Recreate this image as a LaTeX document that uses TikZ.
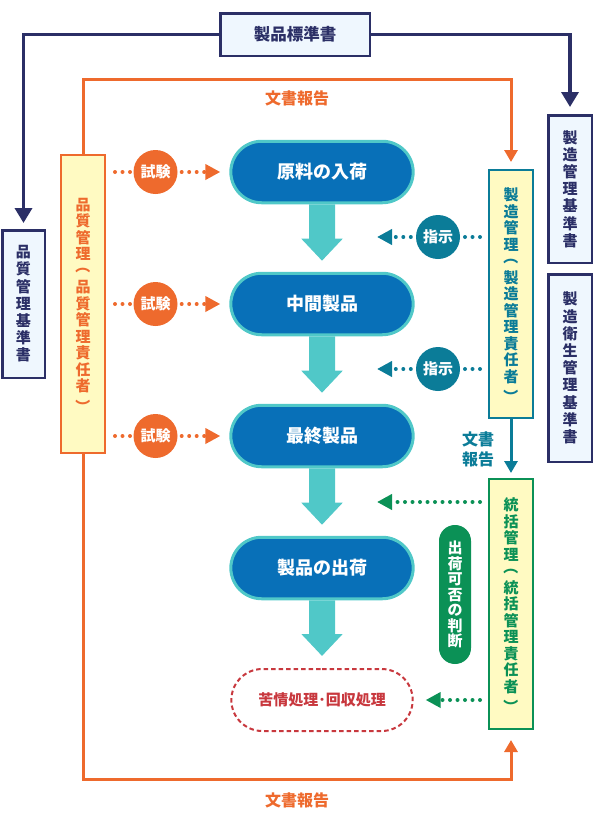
\documentclass[tikz,border=0pt]{standalone}
\usepackage{fontspec}
\setmainfont{Noto Sans CJK JP}
\usetikzlibrary{positioning, arrows.meta, shapes.misc}

\definecolor{stdnavy}{HTML}{2B2F66}
\definecolor{stdfill}{HTML}{EFF7FE}
\definecolor{qcorange}{HTML}{EE6A2D}
\definecolor{mcteal}{HTML}{0B7C98}
\definecolor{gcgreen}{HTML}{0B9156}
\definecolor{rolefill}{HTML}{FFFAC2}
\definecolor{flowblue}{HTML}{0870B8}
\definecolor{flowrim}{HTML}{50C8C8}
\definecolor{claimred}{HTML}{C8383E}

\newcommand{\diafont}[2]{\fontsize{#1}{#2}\selectfont\bfseries}
\newcommand{\vopen}{\raisebox{1.15em}[0.88em][0.12em]{\rotatebox{-90}{（}}}
\newcommand{\vclose}{\raisebox{0.6em}[0.88em][0.12em]{\rotatebox{-90}{）}}}

\tikzset{
  stdbox/.style={draw=stdnavy, line width=2.5pt, fill=stdfill, text=stdnavy,
    inner sep=0pt, align=center, font=\diafont{15}{17.2}},
  stdline/.style={draw=stdnavy, line width=3.5pt, -{Triangle[width=17pt,length=15pt]}},
  rolebox/.style={draw=#1, line width=2pt, fill=rolefill, text=#1,
    inner sep=0pt, align=center, minimum width=44pt, font=\diafont{15}{16.5}},
  flowstep/.style={rounded rectangle, draw=flowrim, line width=3pt, fill=flowblue,
    text=white, minimum width=189pt, minimum height=61.5pt, font=\diafont{18}{20}},
  flowarrow/.style={draw=flowrim, line width=26pt, -{Triangle[width=40pt,length=22pt]}},
  badge/.style={circle, fill=#1, text=white, minimum size=44pt, inner sep=0pt,
    font=\diafont{15}{17}},
  dotline/.style={draw=#1, line width=4pt, line cap=round, dash pattern=on 0pt off 7.5pt},
  dottip/.style={-{Triangle[width=15pt,length=15pt]}},
  report/.style={text=#1, font=\diafont{16}{20}, align=center, inner sep=0pt},
  docline/.style={draw=#1, line width=3pt, -{Triangle[width=13pt,length=12pt]}},
}

\begin{document}
\begin{tikzpicture}[x=1pt, y=-1pt]
\useasboundingbox (0,0) rectangle (594,814);

\node[stdbox, minimum width=149.5pt, minimum height=42.5pt, font=\diafont{16.5}{20}] (prodstd) at (295,34.5) {製品標準書};
\node[stdbox, minimum width=42.5pt, minimum height=147.5pt] (qstd) at (23.5,304) {品\\質\\管\\理\\基\\準\\書};
\node[stdbox, minimum width=43.5pt, minimum height=147.5pt] (mstd) at (570,189) {製\\造\\管\\理\\基\\準\\書};
\node[stdbox, minimum width=43.5pt, minimum height=187.5pt] (hstd) at (570,368) {製\\造\\衛\\生\\管\\理\\基\\準\\書};

\node[rolebox=qcorange, minimum height=298pt] (qc) at (83,304) {品\\質\\管\\理\\\vopen\\品\\質\\管\\理\\責\\任\\者\\\vclose};
\node[rolebox=mcteal, minimum height=248pt] (mc) at (511,294) {製\\造\\管\\理\\\vopen\\製\\造\\管\\理\\責\\任\\者\\\vclose};
\node[rolebox=gcgreen, minimum height=250pt] (gc) at (511,604) {統\\括\\管\\理\\\vopen\\統\\括\\管\\理\\責\\任\\者\\\vclose};

\node[flowstep] (p1) at (322,172) {原料の入荷};
\node[flowstep] (p2) at (322,304) {中間製品};
\node[flowstep] (p3) at (322,436) {最終製品};
\node[flowstep] (p4) at (322,568) {製品の出荷};
\node[rounded rectangle, draw=claimred, line width=2pt, dash pattern=on 4.5pt off 3pt,
  minimum width=188pt, minimum height=62pt, text=claimred, font=\diafont{15}{17}] (claim) at (322,700) {苦情処理･回収処理};

\draw[flowarrow, shorten >=11pt] (p1) -- (p2);
\draw[flowarrow, shorten >=11pt] (p2) -- (p3);
\draw[flowarrow, shorten >=11pt] (p3) -- (p4);
\draw[flowarrow, shorten >=12pt] (p4) -- (claim);

\node[badge=qcorange] (t1) at (155.5,172) {試験};
\node[badge=qcorange] (t2) at (155.5,304) {試験};
\node[badge=qcorange] (t3) at (155.5,436) {試験};
\foreach \i in {1,2,3} {
  \draw[dotline=qcorange, shorten <=9pt] (qc.east |- t\i) -- (t\i);
  \draw[dotline=qcorange, dottip, shorten <=4pt, shorten >=9pt] (t\i) -- (p\i);
}

\node[badge=mcteal] (i1) at (438,237) {指示};
\node[badge=mcteal] (i2) at (438,369) {指示};
\coordinate (i1tip) at (377,237);
\coordinate (i2tip) at (377,369);
\foreach \i in {1,2} {
  \draw[dotline=mcteal, shorten <=8pt] (mc.west |- i\i) -- (i\i);
  \draw[dotline=mcteal, dottip, shorten <=5pt] (i\i) -- (i\i tip);
}

\node[rounded corners=15.9pt, fill=gcgreen, text=white, minimum width=32pt, minimum height=139pt,
  inner sep=0pt, align=center, font=\diafont{15}{15.5}] (judge) at (455,594.5) {出\\荷\\可\\否\\の\\判\\断};
\coordinate (g1tip) at (377,502);
\draw[dotline=gcgreen, dottip, shorten <=8pt] (gc.west |- g1tip) -- (g1tip);
\draw[dotline=gcgreen, dottip, shorten <=8pt, shorten >=12pt] (gc.west |- claim) -- (claim);

\draw[stdline, shorten >=6pt] (prodstd.west) -| (qstd.north);
\draw[stdline, shorten >=7pt] (prodstd.east) -| (mstd.north);

\coordinate (toprep) at (297,79);
\coordinate (botrep) at (297,779);
\draw[docline=qcorange, shorten >=7pt] (qc.north) |- (toprep) -| (mc.north);
\draw[docline=qcorange, shorten >=10pt] (qc.south) |- (botrep) -| (gc.south);
\node[report=qcorange] (toplabel) at (297,98) {文書報告};
\node[report=qcorange] (botlabel) at (297,800) {文書報告};

\draw[docline=mcteal, shorten >=5pt] (mc) -- (gc);
\node[report=mcteal] (midlabel) at (478,449) {文書\\報告};
\end{tikzpicture}
\end{document}
